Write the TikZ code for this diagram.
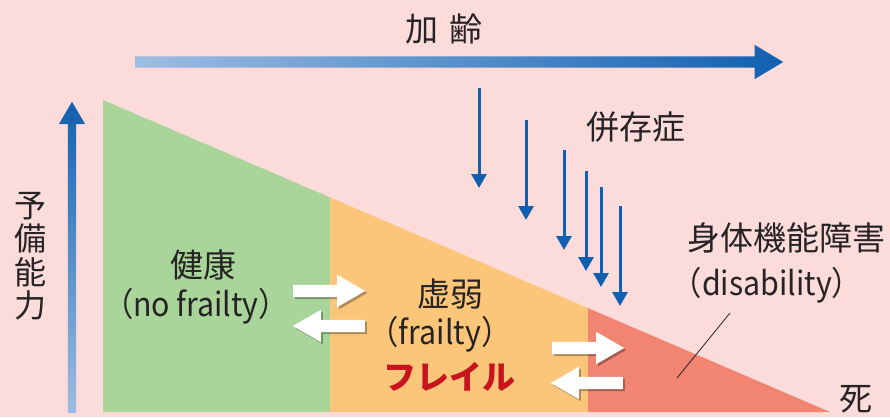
\documentclass[tikz,border=0pt]{standalone}
\usepackage{fontspec}
\setmainfont{Noto Sans CJK JP}
\newfontfamily\narrowlatin{Noto Sans CJK JP}[FakeStretch=0.92]
\usetikzlibrary{arrows.meta,calc,shapes.arrows,shadows}
\definecolor{bgpink}{HTML}{FBDCDA}
\definecolor{healthgreen}{HTML}{A9D59A}
\definecolor{frailorange}{HTML}{FCC67A}
\definecolor{disabred}{HTML}{F28472}
\definecolor{bluedark}{HTML}{1160B0}
\definecolor{bluelight}{HTML}{9DBDE3}
\definecolor{frailred}{HTML}{C8141E}
\definecolor{inkgray}{HTML}{262324}

\begin{document}
\begin{tikzpicture}[
    x=1pt, y=-1pt,
    lbl/.style={text=inkgray, inner sep=0pt, font=\fontsize{33}{36}\selectfont},
    enlbl/.style={lbl, font=\fontsize{33}{36}\selectfont\narrowlatin},
    bigarrow/.style={single arrow, anchor=tail, inner sep=0pt, draw=none},
    fatarrow/.style={bigarrow, fill=white, inner sep=6pt, minimum height=72pt,
        minimum width=32pt, single arrow head extend=10pt, single arrow tip angle=60,
        drop shadow={shadow xshift=2pt, shadow yshift=-2pt, opacity=0.3, fill=black}},
    comorb/.style={draw=bluedark, line width=3pt},
]
\useasboundingbox (0,0) rectangle (890,417);
\fill[bgpink] (0,0) rectangle (890,417);

% reserve triangle
\coordinate (top) at (103,100);
\coordinate (end) at (830,412);
\coordinate (sa) at ($(top)!0.31224!(end)$);
\coordinate (sb) at ($(top)!0.66713!(end)$);
\fill[healthgreen] (top) -- (sa) -- (sa |- end) -- (top |- end) -- cycle;
\fill[frailorange] (sa) -- (sb) -- (sb |- end) -- (sa |- end) -- cycle;
\fill[disabred] (sb) -- (end) -- (sb |- end) -- cycle;

% axes
\node[bigarrow, minimum height=648pt, minimum width=34pt, inner sep=5.5pt,
    single arrow head extend=11.5pt, single arrow tip angle=62,
    left color=bluelight, right color=bluedark] (age) at (135,62) {};
\node[bigarrow, shape border rotate=90, minimum height=311pt, minimum width=26pt,
    inner sep=4pt, single arrow head extend=9pt, single arrow tip angle=61,
    bottom color=bluelight, top color=bluedark] (reserve) at (72,413) {};
\node[lbl] (agelbl) at (444,29) {加\hspace{11pt}齢};
\node[lbl, align=center, font=\fontsize{32}{33.5}\selectfont] (reslbl) at (30,256) {予\\備\\能\\力};

% comorbidities
\foreach \i/\x/\ya/\yb in {1/479/88/188, 2/526/120/220, 3/564/150/250,
    4/586/171/271, 5/601/187/287, 6/620/206/306} {
  \coordinate (c\i s) at (\x,\ya);
  \coordinate (c\i e) at (\x,\yb);
  \draw[comorb, -{Triangle[length=14pt, width=15pt]}] (c\i s) -- (c\i e);
}
\node[lbl] (comlbl) at (636,127) {併存症};

% stages
\node[lbl] (health) at (203,265) {健康};
\node[enlbl] (healthen) at (196,306) {（no\hspace{6pt}frailty）};
\node[lbl] (frail) at (450,294) {虚弱};
\node[enlbl] (frailen) at (440,334) {（frailty）};
\node[lbl, text=frailred, font=\fontsize{33}{36}\selectfont\bfseries] (frailkana) at (449,377) {フレイル};
\node[lbl] (disab) at (786,238) {身体機能障害};
\node[enlbl] (disaben) at (767,285) {（disability）};
\node[lbl] (death) at (856,399) {死};
\coordinate (lead) at (730,313);
\coordinate (leadend) at (677,378);
\draw[inkgray, line width=0.8pt] (lead) -- (leadend);

% transitions
\node[fatarrow] (fw1) at (293,291) {};
\node[fatarrow, shape border rotate=180] (bw1) at (365,326) {};
\node[fatarrow] (fw2) at (552,348) {};
\node[fatarrow, shape border rotate=180] (bw2) at (623,383) {};
\end{tikzpicture}
\end{document}
